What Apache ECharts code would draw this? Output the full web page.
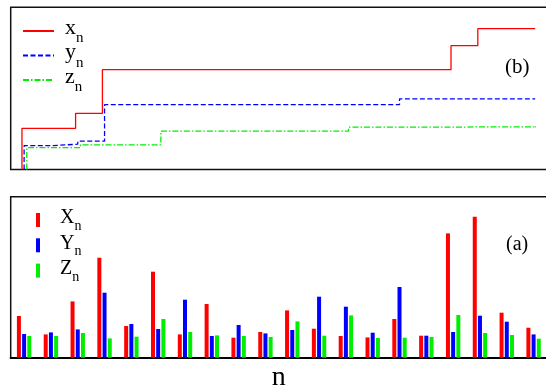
<!DOCTYPE html>
<html><head><meta charset="utf-8">
<script src="https://cdn.jsdelivr.net/npm/echarts@6/dist/echarts.min.js"></script>
<style>html,body{margin:0;padding:0;background:#fff}#c{width:546px;height:389px}</style>
</head><body><div id="c"></div>
<script>
// categories (n)
const categories = ['1','2','3','4','5','6','7','8','9','10','11','12','13','14','15','16','17','18','19','20'];
// panel (a): bar values
const X = [41.7, 23.3, 56.3, 100, 31.7, 86, 23.3, 53.7, 20, 25.7, 47.3, 29, 21.7, 20.3, 38.7, 22, 124.3, 141, 45, 30];
const Y = [23.7, 25.3, 28.3, 65, 33.7, 28.7, 58, 21.7, 32.7, 24.3, 27.7, 61, 51, 25, 70.7, 22, 25.7, 42, 36, 23.3];
const Z = [21.7, 21.7, 24.7, 19.3, 21, 38.7, 25.7, 22.3, 21.7, 20.7, 36.3, 22, 42.3, 19.7, 20, 20.7, 42.7, 24.7, 22.7, 19];
// panel (b): step values
const xStep = [41.2, 41.2, 56.2, 99.8, 99.8, 99.8, 99.8, 99.8, 99.8, 99.8, 99.8, 99.8, 99.8, 99.8, 99.8, 99.8, 123.8, 140.8, 140.8, 140.8];
const yStep = [23.8, 25.3, 28.3, 64.8, 64.8, 64.8, 64.8, 64.8, 64.8, 64.8, 64.8, 64.8, 64.8, 64.8, 70.7, 70.7, 70.7, 70.7, 70.7, 70.7];
const zStep = [21.8, 21.8, 24.7, 24.7, 24.7, 38.4, 38.4, 38.4, 38.4, 38.4, 38.4, 38.4, 42.3, 42.3, 42.3, 42.3, 42.7, 42.7, 42.7, 42.7];
const stepEnd = 19.56;

const FONT = 'Liberation Serif';
function stepPoints(vals, off) {
  const pts = [[off, 0]];
  vals.forEach((v, i) => pts.push([i + off, v]));
  pts.push([stepEnd, vals[vals.length - 1]]);
  return pts;
}
function subFmt(name) {
  const p = name.split('_');
  return '{m|' + p[0] + '}{s|' + p[1] + '}';
}
const chart = echarts.init(document.getElementById('c'), null, {renderer: 'canvas'});
chart.setOption({
  animation: false,
  backgroundColor: '#fff',
  grid: [
    {left: 10.7, right: -1, top: 7.3, height: 162.2, show: true, borderColor: '#111', borderWidth: 1.5,
     containLabel: false, outerBoundsMode: 'none'},
    {left: 10.7, right: -1, top: 196.7, height: 161, show: true, borderColor: '#111', borderWidth: 1.5,
     containLabel: false, outerBoundsMode: 'none'}
  ],
  xAxis: [
    {gridIndex: 0, type: 'value', min: 0, max: 20, show: false},
    {gridIndex: 1, type: 'category', data: categories, axisTick: {show: false}, axisLabel: {show: false},
     axisLine: {show: true, lineStyle: {color: '#000', width: 2}},
     name: 'n', nameLocation: 'middle', nameGap: 6,
     nameTextStyle: {fontFamily: FONT, fontSize: 28, color: '#000'}}
  ],
  yAxis: [
    {gridIndex: 0, type: 'value', min: 0, max: 162.2, show: false},
    {gridIndex: 1, type: 'value', min: 0, max: 161, show: false}
  ],
  legend: [
    {data: ['x_n', 'y_n', 'z_n'], orient: 'vertical', left: 22, top: 16, padding: 0,
     itemWidth: 31, itemHeight: 10, itemGap: -5.5, formatter: subFmt,
     itemStyle: {opacity: 0},
     textStyle: {color: '#000', rich: {
       m: {fontFamily: FONT, fontSize: 22, lineHeight: 2, color: '#000', padding: [0, 0, 6, 6]},
       s: {fontFamily: FONT, fontSize: 15, lineHeight: 2, color: '#000', padding: [15, 0, 0, 0]}}}},
    {data: ['X_n', 'Y_n', 'Z_n'], orient: 'vertical', left: 36, top: 206.5, padding: 0, icon: 'rect',
     itemWidth: 4, itemHeight: 14, itemGap: -1.7, formatter: subFmt,
     textStyle: {color: '#000', rich: {
       m: {fontFamily: FONT, fontSize: 20, lineHeight: 2, color: '#000', padding: [0, 0, 4, 15]},
       s: {fontFamily: FONT, fontSize: 14, lineHeight: 2, color: '#000', padding: [13, 0, 0, 0]}}}}
  ],
  graphic: [
    {type: 'text', x: 505, y: 67.5, style: {text: '(b)', font: '21px "Liberation Serif"', fill: '#000', verticalAlign: 'middle'}},
    {type: 'text', x: 506, y: 245, style: {text: '(a)', font: '20px "Liberation Serif"', fill: '#000', verticalAlign: 'middle'}}
  ],
  series: [
    {name: 'z_n', type: 'line', xAxisIndex: 0, yAxisIndex: 0, step: 'end', symbol: 'none',
     data: stepPoints(zStep, 0.6), lineStyle: {color: '#00ee00', width: 1.3, type: [6, 2, 1.5, 2]}, itemStyle: {color: '#00ee00'}},
    {name: 'y_n', type: 'line', xAxisIndex: 0, yAxisIndex: 0, step: 'end', symbol: 'none',
     data: stepPoints(yStep, 0.5), lineStyle: {color: '#0000ff', width: 1.3, type: [5, 2.5]}, itemStyle: {color: '#0000ff'}},
    {name: 'x_n', type: 'line', xAxisIndex: 0, yAxisIndex: 0, step: 'end', symbol: 'none',
     data: stepPoints(xStep, 0.42), lineStyle: {color: '#ff0000', width: 1.3}, itemStyle: {color: '#ff0000'}},
    {name: 'X_n', type: 'bar', xAxisIndex: 1, yAxisIndex: 1, data: X, barWidth: 4, barGap: '30%', itemStyle: {color: '#ff0000'}},
    {name: 'Y_n', type: 'bar', xAxisIndex: 1, yAxisIndex: 1, data: Y, barWidth: 4, barGap: '30%', itemStyle: {color: '#0000ff'}},
    {name: 'Z_n', type: 'bar', xAxisIndex: 1, yAxisIndex: 1, data: Z, barWidth: 4, barGap: '30%', itemStyle: {color: '#00ee00'}}
  ]
});
</script></body></html>
